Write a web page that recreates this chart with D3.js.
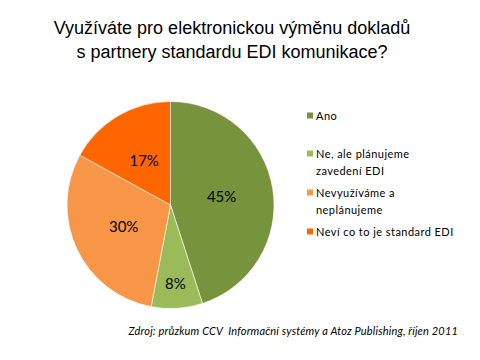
<!DOCTYPE html>
<html>
<head>
<meta charset="utf-8">
<script src="https://cdn.jsdelivr.net/npm/d3@7"></script>
<style>
  body { margin: 0; background: #fff; }
  svg { display: block; }
</style>
</head>
<body>
<svg width="480" height="360"></svg>
<script>
// data
const titleLines = ["Využíváte pro elektronickou výměnu dokladů", "s partnery standardu EDI komunikace?"];
const categories = ["Ano", "Ne, ale plánujeme zavedení EDI", "Nevyužíváme a neplánujeme", "Neví co to je standard EDI"];
const legendLines = [["Ano"], ["Ne, ale plánujeme", "zavedení EDI"], ["Nevyužíváme a", "neplánujeme"], ["Neví co to je standard EDI"]];
const values = [45, 8, 30, 17];
const colors = ["#77933c", "#9bbb59", "#f79646", "#ff6600"];
const source = "Zdroj: průzkum CCV  Informační systémy a Atoz Publishing, říjen 2011";

const svg = d3.select("svg");
const cx = 170.5, cy = 205, r = 103.5;

// title
svg.append("text")
    .attr("x", 232).attr("y", 34)
    .attr("text-anchor", "middle")
    .style("font-family", "Liberation Sans, Arial, sans-serif")
    .style("font-size", "18px")
    .attr("fill", "#000")
    .selectAll("tspan")
    .data(titleLines)
    .enter().append("tspan")
    .attr("x", 232)
    .attr("dy", (d, i) => i ? 24 : 0)
    .text(d => d);

// pie
const pie = d3.pie().sort(null).value(d => d);
const arcs = pie(values);
const arc = d3.arc().innerRadius(0).outerRadius(r);

const g = svg.append("g").attr("transform", `translate(${cx},${cy})`);
g.selectAll("path")
    .data(arcs)
    .enter().append("path")
    .attr("d", arc)
    .attr("fill", (d, i) => colors[i])
    .attr("stroke", "#fff")
    .attr("stroke-width", 0.6);

// labels: small slices pushed out further
g.selectAll("text.lbl")
    .data(arcs)
    .enter().append("text")
    .attr("class", "lbl")
    .attr("transform", d => {
        const k = d.data < 10 ? 0.76 : 0.5;
        const a = (d.startAngle + d.endAngle) / 2;
        return `translate(${Math.sin(a) * r * k},${-Math.cos(a) * r * k})`;
    })
    .attr("text-anchor", "middle")
    .attr("dy", "0.35em")
    .style("font-family", "Lato, 'Open Sans', sans-serif")
    .style("font-size", "15px")
    .attr("fill", "#000")
    .text(d => d.data + "%");

// legend
const legY = [116, 154, 193, 232];
const leg = svg.append("g")
    .style("font-family", "Lato, 'Open Sans', sans-serif")
    .style("font-size", "11px")
    .attr("fill", "#000");
legendLines.forEach((lines, i) => {
    leg.append("rect")
        .attr("x", 307).attr("y", legY[i] - 3.5)
        .attr("width", 6).attr("height", 6)
        .attr("fill", colors[i]);
    leg.append("text")
        .attr("x", 316).attr("y", legY[i] + 4)
        .attr("letter-spacing", "0.45px")
        .selectAll("tspan")
        .data(lines)
        .enter().append("tspan")
        .attr("x", 316)
        .attr("dy", (d, j) => j ? 17 : 0)
        .text(d => d);
});

// source
svg.append("text")
    .attr("x", 458).attr("y", 335)
    .attr("text-anchor", "end")
    .style("font-family", "Lato, 'Open Sans', sans-serif")
    .style("font-size", "11px")
    .style("font-style", "italic")
    .style("white-space", "pre")
    .attr("letter-spacing", "0.17px")
    .text(source);
</script>
</body>
</html>
